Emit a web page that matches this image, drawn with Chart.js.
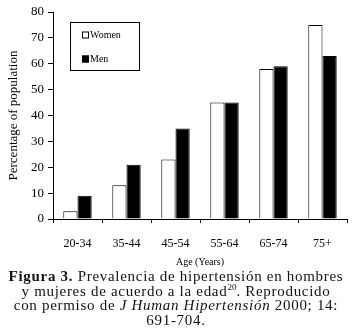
<!DOCTYPE html>
<html>
<head>
<meta charset="utf-8">
<script src="https://cdn.jsdelivr.net/npm/chart.js@4"></script>
<style>
  body { margin: 0; background: #fff; width: 352px; height: 336px; overflow: hidden; }
  #wrap { position: relative; width: 352px; height: 270px; }
  #caption {
    position: absolute; left: 0; top: 269px; width: 352px;
    font-family: "Liberation Serif", serif; font-size: 15px; line-height: 14.7px;
    letter-spacing: 0.7px; text-align: center; color: #111;
  }
  #caption sup { font-size: 9px; line-height: 0; letter-spacing: 0; }
</style>
</head>
<body>
<div id="wrap"><canvas id="chart"></canvas></div>
<div id="caption">
  <b>Figura 3.</b> Prevalencia de hipertensión en hombres<br>
  y mujeres de acuerdo a la edad<sup>20</sup>. Reproducido<br>
  con permiso de <i>J Human Hipertensión</i> 2000; 14:<br>
  691-704.
</div>
<script>
const ageGroups = ["20-34", "35-44", "45-54", "55-64", "65-74", "75+"]
const women = [3, 13, 23, 45, 58, 75]
const men = [9, 21, 35, 45, 59, 63]
const yTicks = [0, 10, 20, 30, 40, 50, 60, 70, 80]

const serif = "'Liberation Serif', 'DejaVu Serif', serif"

// legend box drawn inside the plot, upper left
const boxLegend = {
    id: "boxLegend",
    afterDraw(chart){
        const ctx = chart.ctx
        const x = 70, y = 22, w = 69, h = 48
        ctx.save()
        ctx.strokeStyle = "#000"
        ctx.lineWidth = 1
        ctx.fillStyle = "#fff"
        ctx.fillRect(x, y, w, h)
        ctx.strokeRect(x + 0.5, y + 0.5, w, h)
        ctx.font = "10px " + serif
        ctx.textBaseline = "middle"
        chart.data.datasets.forEach((ds, i) => {
            const ry = y + 13 + i * 24
            ctx.fillStyle = ds.backgroundColor
            ctx.fillRect(x + 12, ry - 3.5, 7, 7)
            ctx.strokeRect(x + 12.5, ry - 3, 6, 6)
            ctx.fillStyle = "#000"
            ctx.fillText(ds.label, x + 20, ry)
        })
        ctx.restore()
    }
}

const ctx = document.getElementById("chart").getContext("2d")
new Chart(ctx, {
    type: "bar",
    data: {
        labels: ageGroups,
        datasets: [
            { label: "Women", data: women, backgroundColor: "#fff", borderColor: "#000", borderWidth: 1 },
            { label: "Men", data: men, backgroundColor: "#000", borderColor: "#000", borderWidth: 1 }
        ]
    },
    options: {
        responsive: true,
        maintainAspectRatio: false,
        animation: false,
        layout: { padding: { top: 12, right: 5, left: 6, bottom: 2 } },
        plugins: { legend: { display: false }, tooltip: { enabled: false } },
        datasets: { bar: { categoryPercentage: 0.58, barPercentage: 1 } },
        scales: {
            x: {
                afterFit: (axis) => { axis.height = 49 },
                grid: { display: true, drawOnChartArea: false, offset: true, tickLength: 4, color: "#000" },
                border: { color: "#000", width: 1 },
                ticks: { color: "#000", font: { family: serif, size: 12 }, padding: 14, maxRotation: 0 },
                title: { display: true, text: "Age (Years)", color: "#000", font: { family: serif, size: 10 }, padding: { top: 6, bottom: 0 } }
            },
            y: {
                min: 0,
                max: 80,
                afterBuildTicks: (axis) => { axis.ticks = yTicks.map(v => ({ value: v })) },
                afterFit: (axis) => { axis.width = 47 },
                grid: { display: true, drawOnChartArea: false, tickLength: 5, color: "#000" },
                border: { color: "#000", width: 1 },
                ticks: { color: "#000", font: { family: serif, size: 13 }, padding: 4 },
                title: { display: true, text: "Percentage of population", color: "#000", font: { family: serif, size: 13 }, padding: 0 }
            }
        }
    },
    plugins: [boxLegend]
})
</script>
</body>
</html>
